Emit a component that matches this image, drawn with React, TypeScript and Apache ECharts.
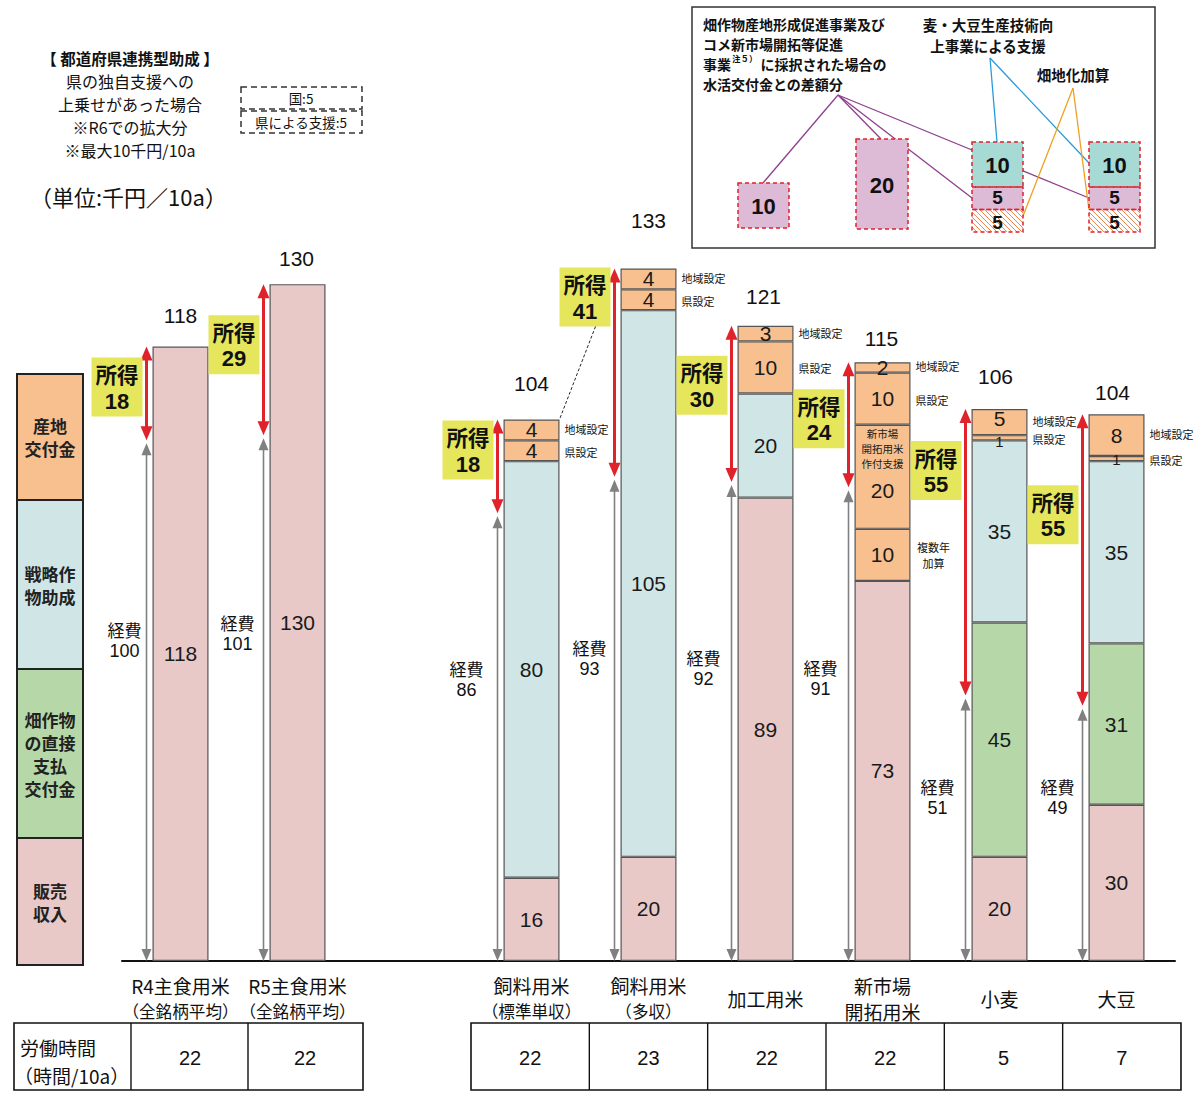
import React, { useEffect, useRef } from 'react';
import * as echarts from 'echarts';

// ---------------- data ----------------
const CATEGORIES = [
  'R4主食用米\n（全銘柄平均）',
  'R5主食用米\n（全銘柄平均）',
  '',
  '飼料用米\n（標準単収）',
  '飼料用米\n（多収）',
  '加工用米',
  '新市場\n開拓用米',
  '小麦',
  '大豆',
];
const SALES = [118, 130, null, 16, 20, 89, 73, 20, 30];
const DIRECT_PAYMENT = [null, null, null, null, null, null, null, 45, 31];
const STRATEGIC = [null, null, null, 80, 105, 20, null, 35, 35];
const MULTI_YEAR = [null, null, null, null, null, null, 10, null, null];
const NEW_MARKET_SUPPORT = [null, null, null, null, null, null, 20, null, null];
const PREF_SETTING = [null, null, null, 4, 4, 10, 10, 1, 1];
const REGION_SETTING = [null, null, null, 4, 4, 3, 2, 5, 8];
const TOTAL_LABELS = [118, 130, null, 104, 133, 121, 115, 106, 104];
const COSTS = [100, 101, null, 86, 93, 92, 91, 51, 49];
const INCOMES = [18, 29, null, 18, 41, 30, 24, 55, 55];
const LABOR_HOURS = [22, 22, null, 22, 23, 22, 22, 5, 7];
const LEGEND_ITEMS = ['産地\n交付金', '戦略作\n物助成', '畑作物\nの直接\n支払\n交付金', '販売\n収入'];
const INSET_DIFF = [10, 20, 5, 5];
const INSET_TECH = [10, 10];
const INSET_FIELD = [5, 5];

// ---------------- styles / layout ----------------
const JP = "'Noto Sans CJK JP', 'Noto Sans', sans-serif";
const NUM = "'Liberation Sans Narrow', 'Liberation Sans', 'Noto Sans CJK JP', sans-serif";
const SANS = "'Liberation Sans', 'Noto Sans CJK JP', sans-serif";
const PINK = '#E8C9C8';
const BLUE = '#CFE5E6';
const GREEN = '#B6D8A9';
const ORANGE = '#F7C08E';
const YELLOW = '#E6E65C';
const LILAC = '#DDBBD6';
const TEAL = '#A7D9D5';
const RED = '#E0222A';
const GRAY = '#808080';
const BAR_W = 56;

const BOX_DY = [11, 31, 0, 1, -1, 30, 27, 32, 71];
const COST_LABEL_Y = [640, 633, 0, 679, 658, 668, 678, 797, 797];
const COST_LABEL_DX = [-22, -26, 0, -31, -25, -28, -28, -28, -25];
const TOTAL_DY = [-31, -26, 0, -36, -48, -29, -24, -33, -22];
const TOTAL_DX = [0, -1, 0, 0, 0, -2, -1, -4, -4];
// per-segment label nudges for very thin segments
const LABEL_TWEAKS: Record<string, any> = {
  'region:7': { offset: [0, -4] },
  'pref:7': { fontSize: 15, offset: [0, 4] },
  'pref:8': { fontSize: 15, offset: [0, 1] },
};

const STACKS = [SALES, DIRECT_PAYMENT, STRATEGIC, MULTI_YEAR, NEW_MARKET_SUPPORT, PREF_SETTING, REGION_SETTING];
const stackTop = (i: number) => STACKS.reduce((s, a) => s + ((a[i] as number) ?? 0), 0);

function txt(x: number, y: number, text: string, size: number, o: any = {}) {
  const align = o.align ?? 'center';
  const valign = o.valign ?? 'middle';
  return {
    type: 'text',
    x,
    y,
    silent: true,
    z: o.z ?? 10,
    style: {
      text,
      fontSize: size,
      fontFamily: o.family ?? JP,
      fontWeight: o.weight ?? 'normal',
      fill: o.color ?? '#111',
      align,
      verticalAlign: valign,
      textAlign: align,
      textVerticalAlign: valign,
      lineHeight: o.lh,
      rich: o.rich,
    },
  };
}

function buildGraphics() {
  const g: any[] = [];
  // left legend
  const bounds = [374, 500, 669, 838, 965];
  const colors = [ORANGE, BLUE, GREEN, PINK];
  LEGEND_ITEMS.forEach((label, k) => {
    g.push({
      type: 'rect',
      silent: true,
      shape: { x: 17, y: bounds[k], width: 66, height: bounds[k + 1] - bounds[k] },
      style: { fill: colors[k], stroke: '#222', lineWidth: 2 },
    });
    g.push(txt(50, (bounds[k] + bounds[k + 1]) / 2, label, 17, { weight: 'bold', lh: 23, color: '#222' }));
  });

  // top-left notes
  g.push(
    txt(130, 104, '【 都道府県連携型助成 】\n{a|県の独自支援への}\n{a|上乗せがあった場合}\n{a|※R6での拡大分}\n{a|※最大10千円/10a}', 15.5, {
      weight: 'bold',
      lh: 23,
      rich: { a: { fontSize: 16, fontWeight: 'normal', fontFamily: JP, fill: '#111', lineHeight: 23 } },
    })
  );
  [87, 111].forEach((y) => {
    g.push({
      type: 'rect',
      silent: true,
      shape: { x: 241, y, width: 121, height: 22 },
      style: { fill: 'none', stroke: '#333', lineWidth: 1.5, lineDash: [6, 4] },
    });
  });
  g.push(txt(301, 98, '国:5', 13.5, { lh: 16 }));
  g.push(txt(301, 122, '県による支援:5', 13.5, { lh: 16 }));
  g.push(txt(30, 196, '（単位:千円／10a）', 22, { align: 'left' }));

  // inset panel
  g.push({
    type: 'rect',
    silent: true,
    shape: { x: 692, y: 7, width: 463, height: 241 },
    style: { fill: '#fff', stroke: '#333', lineWidth: 1.5 },
  });
  const insetRich = {
    a: { fontSize: 14, fontWeight: 'bold', fontFamily: JP, fill: '#111', lineHeight: 20.3 },
    s: { fontSize: 8.5, fontWeight: 'bold', fontFamily: JP, fill: '#111', verticalAlign: 'top', lineHeight: 20.3, padding: [0, 3, 0, 1] },
  };
  g.push(
    txt(703, 54, '{a|畑作物産地形成促進事業及び}\n{a|コメ新市場開拓等促進}\n{a|事業}{s|注５）}{a|に採択された場合の}\n{a|水活交付金との差額分}', 14, {
      align: 'left',
      weight: 'bold',
      rich: insetRich,
    })
  );
  g.push(txt(988, 35, '麦・大豆生産技術向\n上事業による支援', 14.5, { weight: 'bold', lh: 21 }));
  g.push(txt(1073, 74, '畑地化加算', 14.5, { weight: 'bold', lh: 18 }));

  const seg = (x1: number, y1: number, x2: number, y2: number, color: string) => ({
    type: 'line',
    silent: true,
    z: 10,
    shape: { x1, y1, x2, y2 },
    style: { stroke: color, lineWidth: 1.3 },
  });
  const PURPLE = '#8E3F8E';
  const LBLUE = '#2A9AD8';
  const LORANGE = '#F0A020';
  [
    [763, 183],
    [881, 139],
    [972, 198],
    [1089, 198],
  ].forEach(([x, y]) => g.push(seg(838, 95, x, y, PURPLE)));
  [
    [997, 142],
    [1089, 163],
  ].forEach(([x, y]) => g.push(seg(990, 58, x, y, LBLUE)));
  [
    [1023, 216],
    [1089, 210],
  ].forEach(([x, y]) => g.push(seg(1073, 88, x, y, LORANGE)));

  const UNIT = 4.5;
  const box = (x: number, bottom: number, w: number, v: number, fill: string, hatch: boolean, dy: number) => {
    const h = v * UNIT;
    const y = bottom - h;
    g.push({
      type: 'rect',
      silent: true,
      z: 11,
      shape: { x, y, width: w, height: h },
      style: { fill, stroke: 'none' },
    });
    if (hatch) {
      for (let c = -h; c < w; c += 5) {
        const ymin = Math.max(0, -c);
        const ymax = Math.min(h, w - c);
        if (ymin < ymax) {
          g.push({
            type: 'line',
            silent: true,
            z: 12,
            shape: { x1: x + ymin + c, y1: y + ymin, x2: x + ymax + c, y2: y + ymax },
            style: { stroke: '#F08850', lineWidth: 1 },
          });
        }
      }
    }
    g.push({
      type: 'rect',
      silent: true,
      z: 13,
      shape: { x, y, width: w, height: h },
      style: { fill: 'none', stroke: RED, lineWidth: 1.5, lineDash: [4, 3] },
    });
    g.push(txt(x + w / 2, y + h / 2 + dy, String(v), v < 10 ? 19 : 22, { weight: 'bold', family: SANS, z: 14, lh: 20 }));
    return y;
  };
  box(738, 228, 51, INSET_DIFF[0], LILAC, false, 1);
  box(856, 229, 52, INSET_DIFF[1], LILAC, false, 1);
  [972, 1089].forEach((x, k) => {
    const y1 = box(x, 232, 51, INSET_FIELD[k], '#fff', true, 1.5);
    const y2 = box(x, y1, 51, INSET_DIFF[2 + k], LILAC, false, -1);
    box(x, y2, 51, INSET_TECH[k], TEAL, false, 1);
  });

  // labour-hours tables
  const tableTop = 1023;
  const tableH = 67;
  g.push({
    type: 'rect',
    silent: true,
    shape: { x: 14, y: tableTop, width: 349, height: tableH },
    style: { fill: 'none', stroke: '#111', lineWidth: 1.6 },
  });
  [131, 248].forEach((x) =>
    g.push({ type: 'line', silent: true, shape: { x1: x, y1: tableTop, x2: x, y2: tableTop + tableH }, style: { stroke: '#111', lineWidth: 1.4 } })
  );
  g.push(
    txt(14, 1061, '{a|労働時間}\n（時間/10a）', 19, {
      align: 'left',
      lh: 28,
      rich: { a: { fontSize: 19, fontFamily: JP, fill: '#111', lineHeight: 28, padding: [0, 0, 0, 6] } },
    })
  );
  [0, 1].forEach((ci, k) => g.push(txt(190 + k * 115, 1058, String(LABOR_HOURS[ci]), 20, { family: NUM })));

  const rx = 471;
  const cw = 118.33;
  g.push({
    type: 'rect',
    silent: true,
    shape: { x: rx, y: tableTop, width: cw * 6, height: tableH },
    style: { fill: 'none', stroke: '#111', lineWidth: 1.6 },
  });
  for (let k = 1; k < 6; k++) {
    g.push({
      type: 'line',
      silent: true,
      shape: { x1: rx + cw * k, y1: tableTop, x2: rx + cw * k, y2: tableTop + tableH },
      style: { stroke: '#111', lineWidth: 1.4 },
    });
  }
  [3, 4, 5, 6, 7, 8].forEach((ci, k) => g.push(txt(rx + cw * (k + 0.5), 1058, String(LABOR_HOURS[ci]), 20, { family: NUM })));
  return g;
}

function buildOption() {
  const labelBase = { show: true, position: 'inside', fontSize: 21, lineHeight: 15, fontFamily: NUM, color: '#1a1a1a' };
  const bar = (key: string, name: string, data: (number | null)[], color: string, label: any = {}) => ({
    name,
    type: 'bar',
    stack: 'total',
    data: data.map((v, i) => {
      if (v == null) return '-';
      const tw = LABEL_TWEAKS[key + ':' + i];
      return tw ? { value: v, label: tw } : v;
    }),
    barWidth: BAR_W,
    silent: true,
    itemStyle: { color, borderColor: '#555', borderWidth: 1.2 },
    label: { ...labelBase, ...label },
  });

  const annotData: number[][] = [];
  CATEGORIES.forEach((_, i) => {
    if (COSTS[i] != null) annotData.push([i, stackTop(i), COSTS[i] as number]);
  });

  const sideData: number[][] = [];
  const sideTexts: string[] = [];
  CATEGORIES.forEach((_, i) => {
    if (PREF_SETTING[i] == null) return;
    const base =
      (SALES[i] ?? 0) + (DIRECT_PAYMENT[i] ?? 0) + (STRATEGIC[i] ?? 0) + (MULTI_YEAR[i] ?? 0) + (NEW_MARKET_SUPPORT[i] ?? 0);
    sideData.push([i, base + (PREF_SETTING[i] as number) / 2]);
    sideTexts.push('県設定');
    sideData.push([i, base + (PREF_SETTING[i] as number) + (REGION_SETTING[i] as number) / 2]);
    sideTexts.push('地域設定');
    if (MULTI_YEAR[i] != null) {
      sideData.push([i, (SALES[i] ?? 0) + (MULTI_YEAR[i] as number) / 2]);
      sideTexts.push('複数年\n加算');
    }
  });

  const totalData: number[][] = [];
  CATEGORIES.forEach((_, i) => {
    if (TOTAL_LABELS[i] != null) totalData.push([i, stackTop(i)]);
  });

  const tStyle = (text: string, size: number, family: string, weight = 'normal', align = 'center', lh?: number) => ({
    text,
    fontSize: size,
    fontFamily: family,
    fontWeight: weight,
    fill: '#111',
    align,
    verticalAlign: 'middle',
    textAlign: align,
    textVerticalAlign: 'middle',
    lineHeight: lh,
  });

  return {
    animation: false,
    backgroundColor: '#fff',
    grid: { left: 122, right: 25, top: 180, bottom: 139 },
    xAxis: {
      type: 'category',
      data: CATEGORIES,
      axisTick: { show: false },
      axisLine: { lineStyle: { color: '#111', width: 2 } },
      axisLabel: {
        interval: 0,
        margin: 37,
        verticalAlign: 'middle',
        color: '#111',
        fontFamily: JP,
        fontSize: 19,
        lineHeight: 26,
        formatter: (v: string) => {
          const parts = v.split('\n');
          return parts.map((p) => (p.indexOf('（') === 0 ? '{b|' + p + '}' : '{a|' + p + '}')).join('\n');
        },
        rich: {
          a: { fontSize: 19, lineHeight: 26, fontFamily: JP, color: '#111' },
          b: { fontSize: 16.6, lineHeight: 26, fontFamily: JP, color: '#111' },
        },
      },
      splitLine: { show: false },
    },
    yAxis: { type: 'value', min: 0, max: 150, show: false, splitLine: { show: false } },
    series: [
      bar('sales', '販売収入', SALES, PINK),
      bar('direct', '畑作物の直接支払交付金', DIRECT_PAYMENT, GREEN),
      bar('strategic', '戦略作物助成', STRATEGIC, BLUE),
      bar('multi', '複数年加算', MULTI_YEAR, ORANGE),
      bar('newmarket', '新市場開拓用米作付支援', NEW_MARKET_SUPPORT, ORANGE, {
        formatter: '{s|新市場\n開拓用米\n作付支援}\n{v|{c}}',
        padding: [0, 0, 19, 0],
        lineHeight: 15.2,
        rich: {
          s: { fontSize: 10.5, lineHeight: 15.2, fontFamily: JP, color: '#1a1a1a' },
          v: { fontSize: 21, lineHeight: 37, fontFamily: NUM, color: '#1a1a1a' },
        },
      }),
      bar('pref', '県設定', PREF_SETTING, ORANGE),
      bar('region', '地域設定', REGION_SETTING, ORANGE),
      {
        name: 'annotations',
        type: 'custom',
        coordinateSystem: 'cartesian2d',
        encode: { x: 0, y: 1 },
        data: annotData,
        z: 5,
        silent: true,
        renderItem: (params: any, api: any) => {
          const i = api.value(0);
          const top = api.coord([i, api.value(1)]);
          const cost = api.coord([i, api.value(2)]);
          const base = api.coord([i, 0]);
          const ax = top[0] - BAR_W / 2 - 6;
          const ch: any[] = [];
          ch.push({ type: 'line', shape: { x1: ax, y1: top[1] + 10, x2: ax, y2: cost[1] - 10 }, style: { stroke: RED, lineWidth: 3 } });
          ch.push({ type: 'polygon', shape: { points: [[ax, top[1]], [ax - 6, top[1] + 14], [ax + 6, top[1] + 14]] }, style: { fill: RED } });
          ch.push({ type: 'polygon', shape: { points: [[ax, cost[1]], [ax - 6, cost[1] - 14], [ax + 6, cost[1] - 14]] }, style: { fill: RED } });
          const gt = cost[1] + 3;
          ch.push({ type: 'line', shape: { x1: ax, y1: gt + 10, x2: ax, y2: base[1] - 10 }, style: { stroke: GRAY, lineWidth: 1.6 } });
          ch.push({ type: 'polygon', shape: { points: [[ax, gt], [ax - 5, gt + 12], [ax + 5, gt + 12]] }, style: { fill: GRAY } });
          ch.push({ type: 'polygon', shape: { points: [[ax, base[1]], [ax - 5, base[1] - 12], [ax + 5, base[1] - 12]] }, style: { fill: GRAY } });
          const bw = 51;
          const bh = 59;
          const bx = ax - 4 - bw;
          const by = top[1] + BOX_DY[i];
          ch.push({ type: 'rect', shape: { x: bx, y: by, width: bw, height: bh }, style: { fill: YELLOW } });
          ch.push({ type: 'text', x: bx + bw / 2, y: by + 16, style: tStyle('所得', 21.5, JP, 'bold', 'center', 27) });
          ch.push({ type: 'text', x: bx + bw / 2, y: by + 43.5, style: tStyle(String(INCOMES[i]), 22, NUM, 'bold', 'center', 26) });
          const cx = ax + COST_LABEL_DX[i];
          ch.push({ type: 'text', x: cx, y: COST_LABEL_Y[i] - 11, style: tStyle('経費', 17, JP, 'normal', 'center', 22) });
          ch.push({ type: 'text', x: cx, y: COST_LABEL_Y[i] + 11, style: tStyle(String(COSTS[i]), 18, NUM, 'normal', 'center', 22) });
          if (i === 4) {
            const prev = api.coord([3, stackTop(3)]);
            ch.push({
              type: 'line',
              shape: { x1: bx + 36, y1: by + bh, x2: prev[0] + BAR_W / 2, y2: prev[1] },
              style: { stroke: '#222', lineWidth: 1, lineDash: [3, 2] },
            });
          }
          return { type: 'group', children: ch };
        },
      },
      {
        name: 'sideLabels',
        type: 'custom',
        coordinateSystem: 'cartesian2d',
        encode: { x: 0, y: 1 },
        data: sideData,
        z: 5,
        silent: true,
        renderItem: (params: any, api: any) => {
          const p = api.coord([api.value(0), api.value(1)]);
          const s = sideTexts[params.dataIndex];
          const centered = s.indexOf('\n') >= 0;
          return {
            type: 'text',
            x: p[0] + BAR_W / 2 + (centered ? 23 : 5),
            y: p[1] + (s === '地域設定' ? -1 : s === '県設定' ? 1 : 0),
            style: tStyle(s, 11, JP, 'normal', centered ? 'center' : 'left', 16),
          };
        },
      },
      {
        name: 'totals',
        type: 'custom',
        coordinateSystem: 'cartesian2d',
        encode: { x: 0, y: 1 },
        data: totalData,
        z: 5,
        silent: true,
        renderItem: (params: any, api: any) => {
          const i = api.value(0);
          const p = api.coord([i, api.value(1)]);
          return {
            type: 'text',
            x: p[0] + TOTAL_DX[i],
            y: p[1] + TOTAL_DY[i],
            style: tStyle(String(TOTAL_LABELS[i]), 21, SANS),
          };
        },
      },
    ],
    graphic: { elements: buildGraphics() },
  };
}

export default function App() {
  const ref = useRef<HTMLDivElement>(null);
  useEffect(() => {
    if (!ref.current) return;
    const chart = echarts.init(ref.current, null, { renderer: 'svg' });
    chart.setOption(buildOption() as any);
    return () => chart.dispose();
  }, []);
  return (
    <div
      ref={ref}
      style={{ position: 'absolute', left: 0, top: 0, width: 1200, height: 1100, background: '#fff' }}
    />
  );
}
